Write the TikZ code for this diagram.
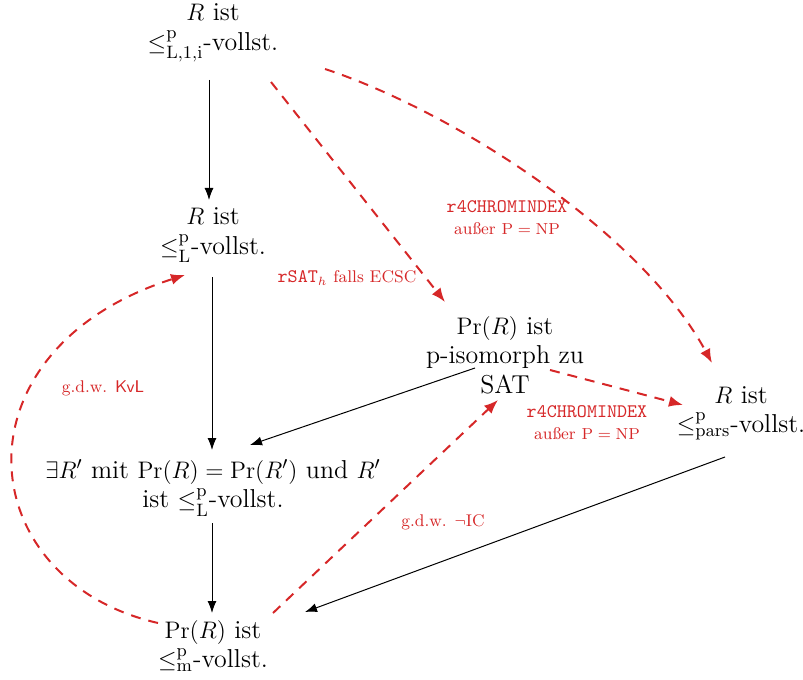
\documentclass[tikz,border=0pt]{standalone}
\usepackage{amsmath,amssymb}
\usetikzlibrary{arrows.meta,calc}

\definecolor{rot}{RGB}{214,39,40}
\newcommand{\redtt}[1]{{\fontsize{9.6}{11}\selectfont\ttfamily #1}}

\begin{document}
\begin{tikzpicture}[x=0.5bp,y=-0.5bp,
  txt/.style={align=center,font=\fontsize{13}{14.8}\selectfont},
  lbl/.style={align=center,text=rot,font=\fontsize{8.5}{11}\selectfont},
  imp/.style={-{Latex[length=6bp,width=4.5bp]},line width=0.5bp},
  redarr/.style={-{Latex[length=7bp,width=5.5bp]},draw=rot,line width=1bp,dash pattern=on 5bp off 4bp}]
\useasboundingbox (0,0) rectangle (803,680);

% Aussagen
\node[txt] (lone) at (213,33) {$R$ ist\\$\leq^{\mathrm{p}}_{\mathrm{L},1,\mathrm{i}}$-vollst.};
\node[txt] (ltwo) at (213,235) {$R$ ist\\$\leq^{\mathrm{p}}_{\mathrm{L}}$-vollst.};
\node[txt] (iso) at (505,355) {$\mathrm{Pr}(R)$ ist\\p-isomorph zu\\SAT};
\node[txt] (pars) at (741,413) {$R$ ist\\$\leq^{\mathrm{p}}_{\mathrm{pars}}$-vollst.};
\node[txt] (exist) at (213,488) {$\exists R'$ mit $\mathrm{Pr}(R)=\mathrm{Pr}(R')$ und $R'$\\ist $\leq^{\mathrm{p}}_{\mathrm{L}}$-vollst.};
\node[txt] (mvoll) at (213,646) {$\mathrm{Pr}(R)$ ist\\$\leq^{\mathrm{p}}_{\mathrm{m}}$-vollst.};

% Implikationen
\draw[imp] ($(lone)+(-4,47)$) -- ($(ltwo)+(-4,-35)$);
\draw[imp] ($(ltwo)+(-1,42)$) -- ($(exist)+(-1,-38)$);
\draw[imp] ($(exist)+(-1,35)$) -- ($(mvoll)+(-1,-33)$);
\draw[imp] ($(iso)+(-30,13)$) -- ($(exist)+(37,-43)$);
\draw[imp] ($(pars)+(-16,44)$) -- ($(mvoll)+(92,-34)$);

% bedingte Implikationen
\draw[redarr] ($(lone)+(58,49)$) -- ($(iso)+(-60,-53)$);
\draw[redarr] ($(lone)+(112,36)$) .. controls (450,110) and (640,230) .. ($(pars)+(-29,-50)$);
\draw[redarr] ($(iso)+(45,15)$) -- ($(pars)+(-58,-8)$);
\draw[redarr] ($(mvoll)+(60,-33)$) -- ($(iso)+(-7,45)$);
\draw[redarr] ($(mvoll)+(-55,-23)$) .. controls (-30,580) and (-50,350) .. ($(ltwo)+(-28,40)$);

\node[lbl] (lsat) at (347,278) {$\text{\redtt{rSAT}}_h$ falls ECSC};
\node[lbl] (lchrom) at (507,218) {\redtt{r4CHROMINDEX}\\außer $\mathrm{P}=\mathrm{NP}$};
\node[lbl] (lchromb) at (587,423) {\redtt{r4CHROMINDEX}\\außer $\mathrm{P}=\mathrm{NP}$};
\node[lbl] (lkvl) at (103,388) {g.d.w. \textsf{KvL}};
\node[lbl] (lic) at (443,522) {g.d.w. $\neg$IC};
\end{tikzpicture}
\end{document}
